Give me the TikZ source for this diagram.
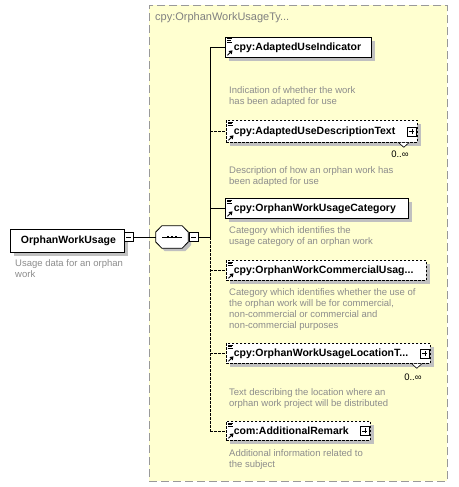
\documentclass[tikz,border=0pt]{standalone}
\usepackage{fontspec}
\setmainfont{Liberation Sans}
\usetikzlibrary{calc,shadows}
\definecolor{ybg}{HTML}{FFFFD0}
\definecolor{yborder}{HTML}{999999}
\definecolor{desc}{HTML}{8C8C8C}
\definecolor{ttl}{HTML}{808080}
\definecolor{shadowc}{HTML}{C0C0C0}
\newcommand{\elicons}[1]{%
  \draw[line width=0.6pt] ($(#1.north west)+(2,1.8)$) -- +(5,0)
     ($(#1.north west)+(2,3.6)$) -- +(4,0)
     ($(#1.north west)+(2,5.4)$) -- +(5,0);
  \draw[line width=0.8pt] ($(#1.south west)+(2.5,-2.5)$) -- +(3,-3);
  \fill ($(#1.south west)+(7.5,-7.5)$) -- +(-4,0.8) -- +(-0.8,4) -- cycle;
}
\newcommand{\octa}[2]{% #1 node, #2 shift
  ($(#1.north west)+(6+#2,#2)$) -- ($(#1.north east)+(-6+#2,#2)$) -- ($(#1.east)+(#2,-5+#2)$) --
  ($(#1.east)+(#2,5+#2)$) -- ($(#1.south east)+(-6+#2,#2)$) -- ($(#1.south west)+(6+#2,#2)$) --
  ($(#1.west)+(#2,5+#2)$) -- ($(#1.west)+(#2,-5+#2)$) -- cycle
}
\tikzset{
  sh/.style={drop shadow={shadow xshift=4pt, shadow yshift=-4pt, fill=shadowc, opacity=1}},
  elem/.style={draw=black, fill=white, line width=0.8pt, sh, anchor=north west,
     inner xsep=0pt, inner ysep=0pt, align=left, text width=#1, minimum height=20pt,
     font=\fontsize{10.5}{12}\selectfont\bfseries},
  opt/.style={dash pattern=on 2.5pt off 1.5pt},
  conn/.style={line width=0.8pt},
  dsc/.style={anchor=north west, inner sep=0pt, align=left, text=desc, font=\fontsize{9.5}{11}\selectfont},
  pmbox/.style={draw=black, fill=white, line width=0.6pt, minimum width=9pt, minimum height=9pt, inner sep=0pt},
  plusb/.style={pmbox, path picture={\draw[line width=0.6pt] ([xshift=2pt]path picture bounding box.west) -- ([xshift=-2pt]path picture bounding box.east) ([yshift=-2pt]path picture bounding box.north) -- ([yshift=2pt]path picture bounding box.south);}},
  minusb/.style={pmbox, path picture={\draw[line width=0.6pt] ([xshift=2pt]path picture bounding box.west) -- ([xshift=-2pt]path picture bounding box.east);}},
  mult/.style={anchor=east, inner sep=0pt, font=\fontsize{9.5}{11}\selectfont},
  chev/.style={draw=black, fill=white, line width=0.6pt},
}
\begin{document}
\begin{tikzpicture}[x=1pt,y=-1pt]
\useasboundingbox (0,0) rectangle (458,487);
\fill[white] (0,0) rectangle (458,487);
% type box
\node[draw=yborder, fill=ybg, dash pattern=on 8pt off 4pt, line width=0.8pt, anchor=north west,
      minimum width=298pt, minimum height=476pt, inner sep=0pt] (tb) at (149,5) {};
\node[anchor=west, inner sep=0pt, text=ttl, font=\fontsize{11}{13}\selectfont] (ttl) at (155,18) {cpy:OrphanWorkUsageTy...};

% main element
\node[draw=black, fill=white, line width=0.8pt, sh, anchor=north west, minimum width=114pt, minimum height=23pt,
      inner sep=0pt, font=\fontsize{10.5}{12}\selectfont\bfseries] (main) at (10,229) {\hspace*{2pt}OrphanWorkUsage};
\node[minusb] (m0) at (128.5,237) {};
\node[dsc] (dmain) at (15,259.5) {Usage data for an orphan\\work};

% sequence
\node[minimum width=32pt, minimum height=22pt, inner sep=0pt] (seq) at (172,237) {};
\fill[shadowc] \octa{seq}{3};
\filldraw[draw=black, fill=white, line width=0.8pt] \octa{seq}{0};
\draw[line width=0.8pt] ($(seq.center)+(-10,0)$) -- ($(seq.center)+(10,0)$);
\foreach \dx in {-4,0,4} \fill ($(seq.center)+(\dx-1.3,-1.3)$) rectangle +(2.6,2.6);
\node[minusb] (m1) at (193.5,237) {};
\coordinate (sp) at (210,237);

% elements
\node[elem=146pt] (e1) at (225,37) {\hspace*{8.5pt}\mbox{cpy:AdaptedUseIndicator}};
\node[elem=191pt, opt, minimum height=22pt] (e2) at (226,120) {\hspace*{7.5pt}\mbox{cpy:AdaptedUseDescriptionText}};
\node[elem=183pt] (e3) at (225,198) {\hspace*{8.5pt}\mbox{cpy:OrphanWorkUsageCategory}};
\node[elem=200pt, opt] (e4) at (226,260) {\hspace*{7.5pt}\mbox{cpy:OrphanWorkCommercialUsag...}};
\node[elem=204pt, opt] (e5) at (226,343) {\hspace*{7.5pt}\mbox{cpy:OrphanWorkUsageLocationT...}};
\node[elem=144pt, opt, minimum height=19pt] (e6) at (226,421) {\hspace*{7.5pt}\mbox{com:AdditionalRemark}};
\foreach \e in {e1,e2,e3,e4,e5,e6} {\elicons{\e}}

\node[plusb] (p2) at ($(e2.east)+(-6,0)$) {};
\node[plusb] (p5) at ($(e5.east)+(-6,0)$) {};
\node[plusb] (p6) at ($(e6.east)+(-6,0)$) {};

% multiplicities
\draw[chev] ($(e2.south east)+(-19,0)$) -- ++(5,4.5) -- ++(5,-4.5);
\node[mult] (n2) at ($(e2.south east)+(-9,11)$) {0..∞};
\draw[chev] ($(e5.south east)+(-19,0)$) -- ++(5,4.5) -- ++(5,-4.5);
\node[mult] (n5) at ($(e5.south east)+(-9,13)$) {0..∞};

% descriptions
\node[dsc] (d1) at (229,86.5) {Indication of whether the work\\has been adapted for use};
\node[dsc] (d2) at (229,166.5) {Description of how an orphan work has\\been adapted for use};
\node[dsc] (d3) at (229,226.5) {Category which identifies the\\usage category of an orphan work};
\node[dsc] (d4) at (229,288.5) {Category which identifies whether the use of\\the orphan work will be for commercial,\\non-commercial or commercial and\\non-commercial purposes};
\node[dsc] (d5) at (229,388.5) {Text describing the location where an\\orphan work project will be distributed};
\node[dsc] (d6) at (229,449.5) {Additional information related to\\the subject};

% connectors
\draw[conn] (m0.east) -- (seq.west);
\draw[conn] (m1.east) -- (sp);
\draw[conn] (e1.west -| sp) -- (sp);
\draw[conn, opt] (sp) -- (e6.west -| sp);
\draw[conn] (e1.west -| sp) -- (e1.west);
\draw[conn, opt] (e2.west -| sp) -- (e2.west);
\draw[conn] (e3.west -| sp) -- (e3.west);
\draw[conn, opt] (e4.west -| sp) -- (e4.west);
\draw[conn, opt] (e5.west -| sp) -- (e5.west);
\draw[conn, opt] (e6.west -| sp) -- (e6.west);
\end{tikzpicture}
\end{document}
